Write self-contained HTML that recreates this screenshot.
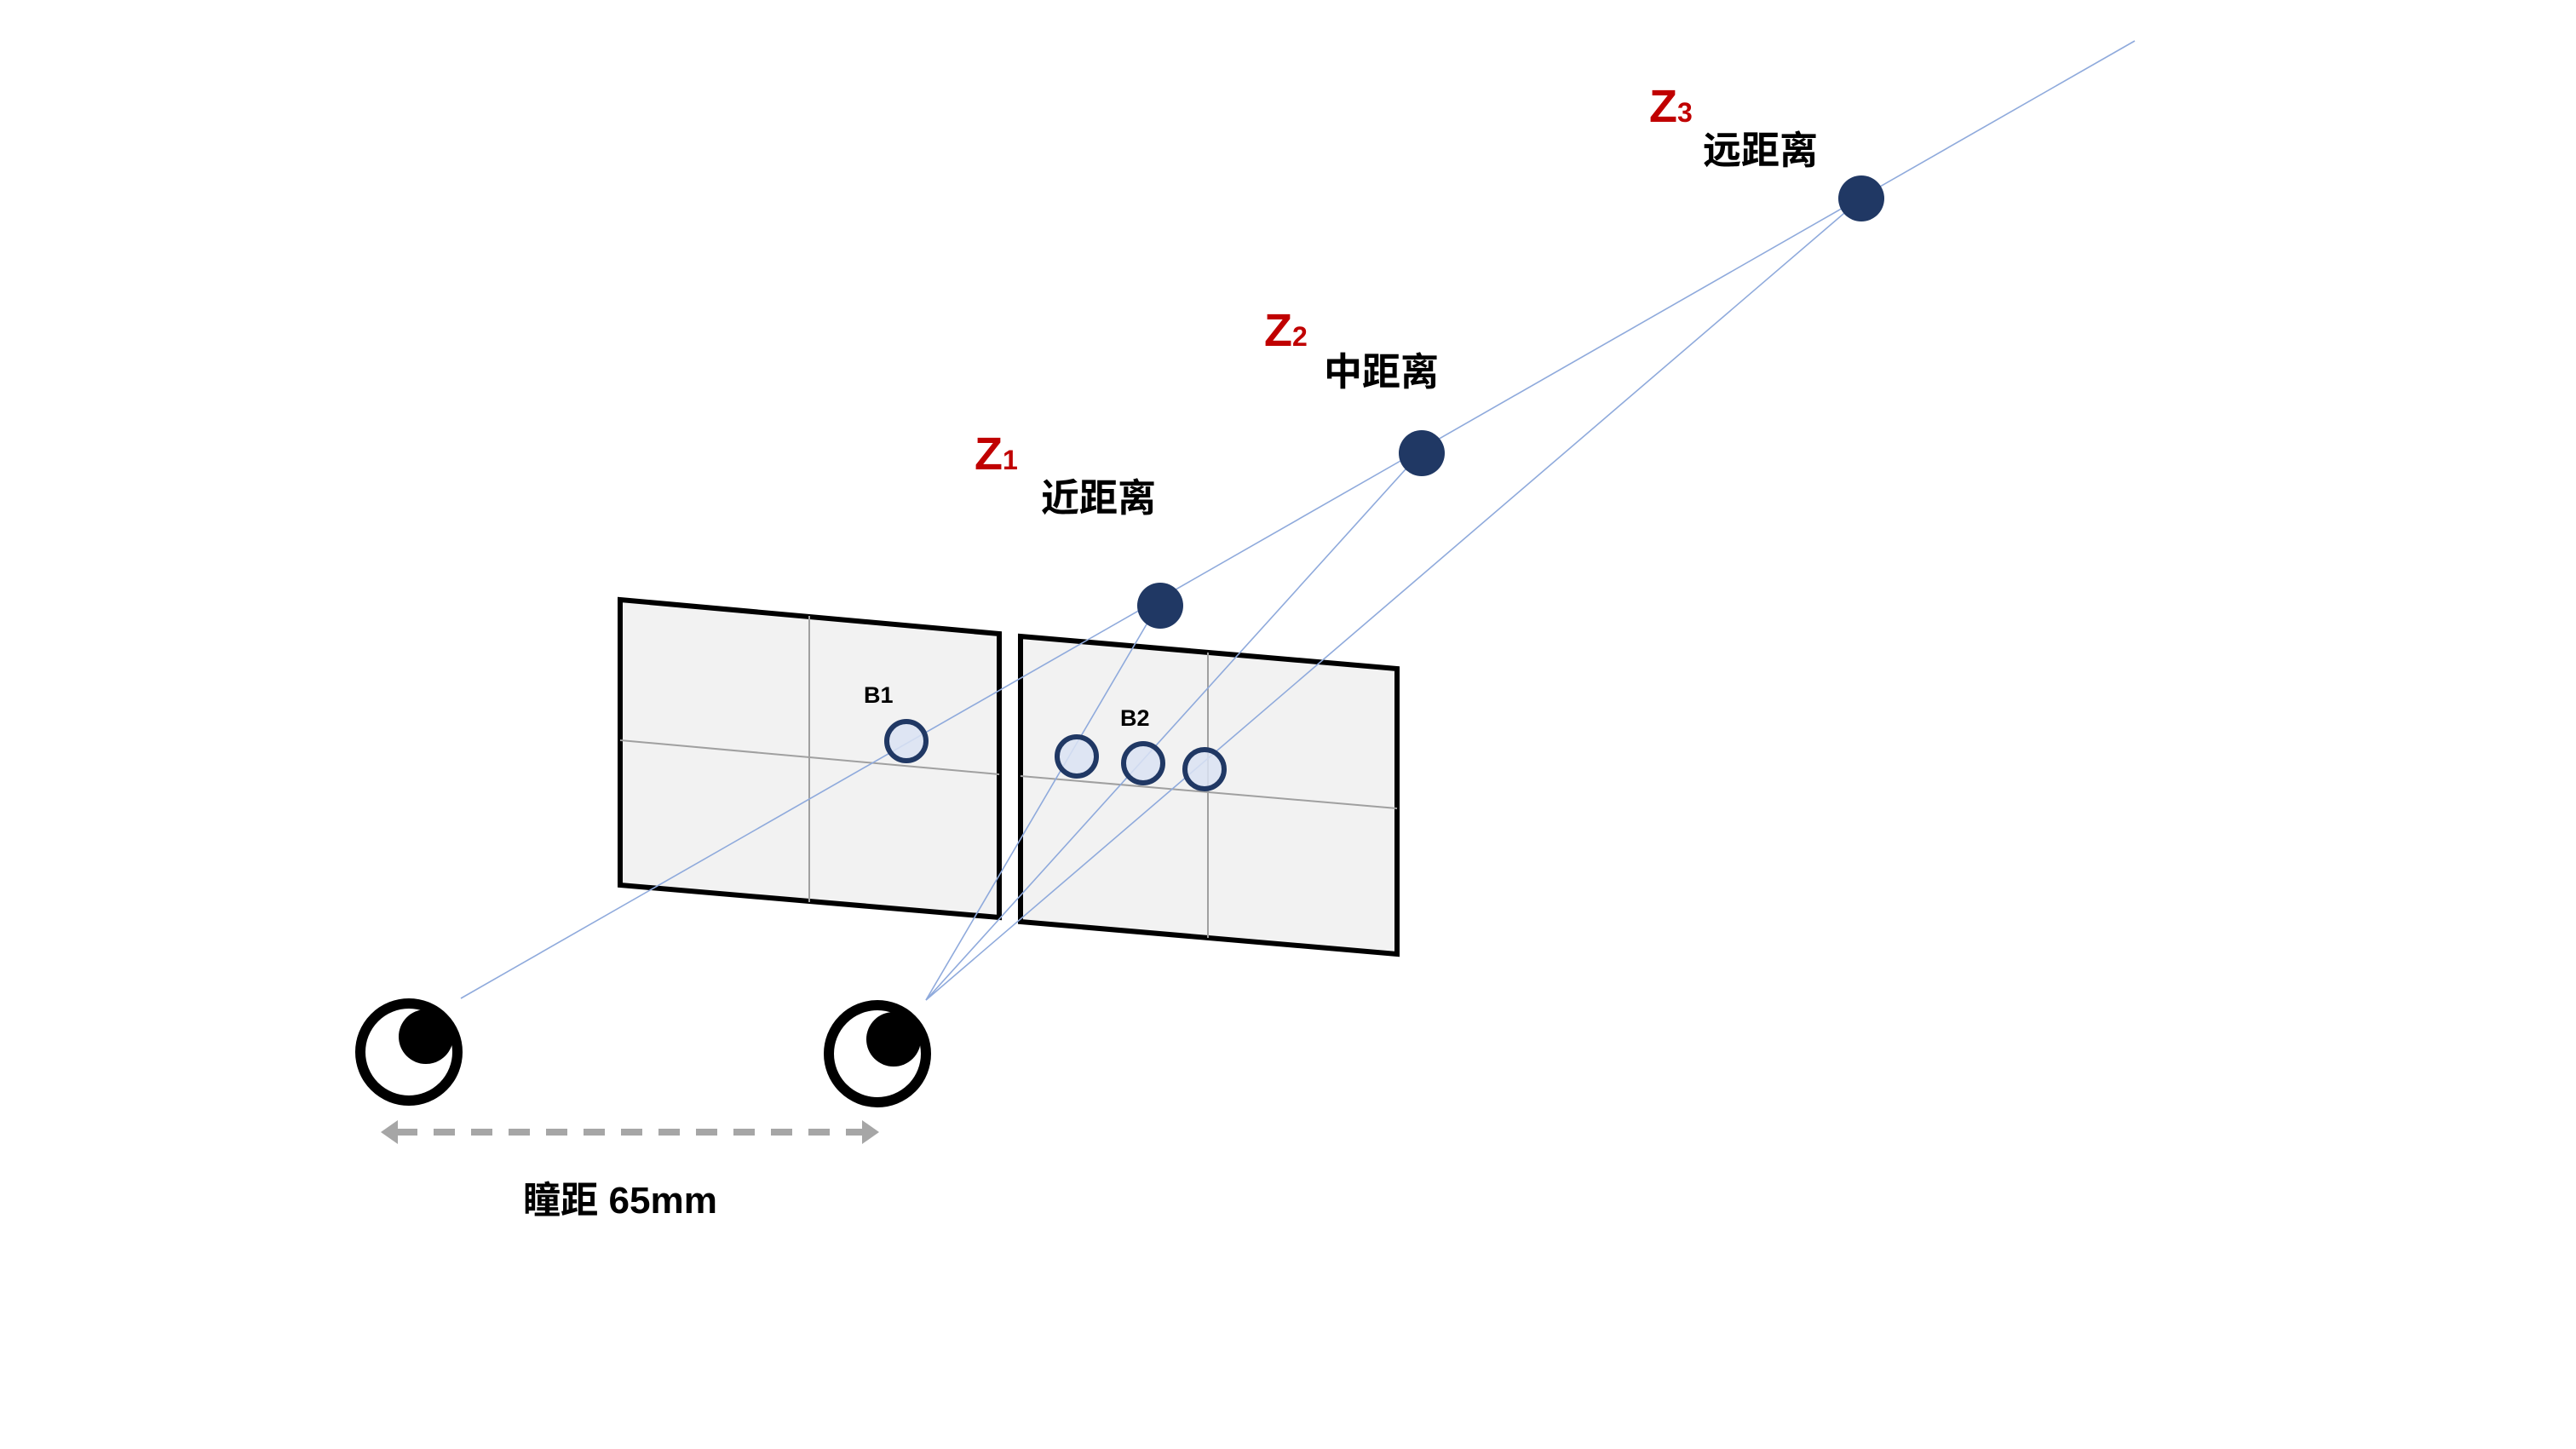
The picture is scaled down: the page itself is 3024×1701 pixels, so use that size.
<!DOCTYPE html>
<html><head><meta charset="utf-8"><style>
html,body{margin:0;padding:0;background:#fff;}
svg{display:block;}
text{font-family:"Liberation Sans","Noto Sans CJK SC",sans-serif;font-weight:bold;}
</style></head><body>
<svg width="3024" height="1701" viewBox="0 0 3024 1701" xmlns="http://www.w3.org/2000/svg">
<rect width="3024" height="1701" fill="#fff"/>
<polygon points="728,704 1173,744 1173,1077 728,1039" fill="#f2f2f2" stroke="#000" stroke-width="6"/>
<line x1="950" y1="723" x2="950" y2="1059" stroke="#a0a0a0" stroke-width="2"/>
<line x1="728" y1="869" x2="1173" y2="909" stroke="#a0a0a0" stroke-width="2"/>
<polygon points="1198,747 1640,785 1640,1120 1198,1082" fill="#f2f2f2" stroke="#000" stroke-width="6"/>
<line x1="1418" y1="766" x2="1418" y2="1101" stroke="#a0a0a0" stroke-width="2"/>
<line x1="1198" y1="911" x2="1640" y2="949" stroke="#a0a0a0" stroke-width="2"/>
<g stroke="#8faadc" stroke-width="1.6" fill="none">
<line x1="541" y1="1172" x2="2506" y2="48"/>
<line x1="1087" y1="1174" x2="1360" y2="709"/>
<line x1="1087" y1="1174" x2="1668" y2="531"/>
<line x1="1087" y1="1174" x2="2185" y2="233"/>
</g>
<g fill="#dae3f3" fill-opacity="0.85" stroke="#203864" stroke-width="6">
<circle cx="1064" cy="870" r="23"/>
<circle cx="1264" cy="888" r="23"/>
<circle cx="1342" cy="896" r="23"/>
<circle cx="1414" cy="903" r="23"/>
</g>
<text x="1014" y="825" font-size="27">B1</text>
<text x="1315" y="852" font-size="27">B2</text>
<g fill="#203864">
<circle cx="1362" cy="711" r="27"/>
<circle cx="1669" cy="532" r="27"/>
<circle cx="2185" cy="233" r="27"/>
</g>
<text x="1144" y="551" font-size="54" fill="#c00000">Z<tspan font-size="32">1</tspan></text>
<text x="1222" y="600" font-size="45">近距离</text>
<text x="1484" y="406" font-size="54" fill="#c00000">Z<tspan font-size="32">2</tspan></text>
<text x="1554" y="452" font-size="45">中距离</text>
<text x="1936" y="143" font-size="54" fill="#c00000">Z<tspan font-size="32">3</tspan></text>
<text x="1999" y="192" font-size="45">远距离</text>
<ellipse cx="480" cy="1235" rx="57" ry="57" fill="#fff" stroke="#000" stroke-width="12"/>
<ellipse cx="500" cy="1217" rx="32" ry="32" fill="#000"/>
<ellipse cx="1030" cy="1237" rx="57" ry="57" fill="#fff" stroke="#000" stroke-width="12"/>
<ellipse cx="1049" cy="1220" rx="32" ry="32" fill="#000"/>
<line x1="465" y1="1329" x2="1012" y2="1329" stroke="#a6a6a6" stroke-width="8" stroke-dasharray="25 19"/>
<polygon points="447,1329 467,1315 467,1343" fill="#a6a6a6"/>
<polygon points="1032,1329 1012,1315 1012,1343" fill="#a6a6a6"/>
<text x="614" y="1424" font-size="44" textLength="228" lengthAdjust="spacingAndGlyphs">瞳距 65mm</text>
</svg>
</body></html>
